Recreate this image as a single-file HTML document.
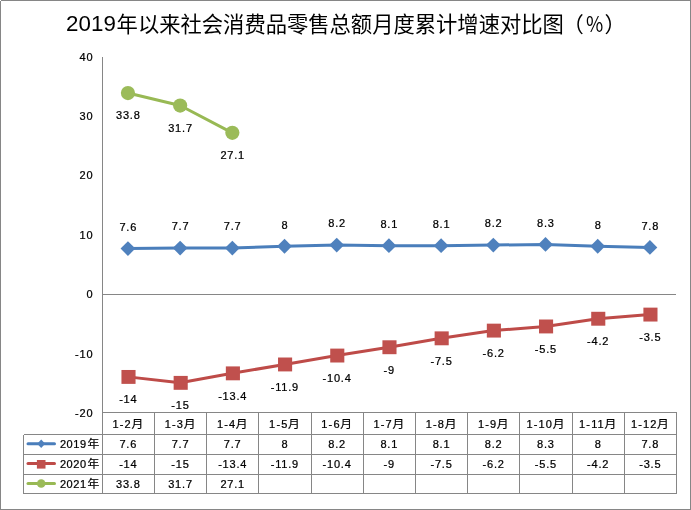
<!DOCTYPE html>
<html lang="zh-CN"><head><meta charset="utf-8"><title>2019年以来社会消费品零售总额月度累计增速对比图</title>
<style>html,body{margin:0;padding:0;background:#fff;}body{width:691px;height:510px;overflow:hidden;}svg{display:block;}text{font-family:"Liberation Sans","Noto Sans CJK SC",sans-serif;fill:#000;}.n{font-size:11px;letter-spacing:0.8px;stroke:#000;stroke-width:0.24px;}.c{font-family:"Noto Sans CJK SC","Liberation Sans",sans-serif;font-size:11.8px;stroke:#000;stroke-width:0.2px;}.t{font-size:21.3px;font-family:"Noto Sans CJK SC","Liberation Sans",sans-serif;}.td{font-size:22.3px;font-family:"Liberation Sans",sans-serif;letter-spacing:0.1px}</style></head><body>
<svg width="691" height="510" viewBox="0 0 691 510">
<rect x="0" y="0" width="691" height="510" fill="#fff"/>
<rect x="0.5" y="0.5" width="690" height="509" fill="none" stroke="#868686" stroke-width="1"/>
<rect x="0" y="0" width="1" height="1" fill="#fff"/>
<text class="td" x="66" y="30.6">2019</text>
<text class="t" x="116.6" y="31.5">年以来社会消费品零售总额月度累计增速对比图</text>
<text class="t" x="562.4" y="31.5">（</text>
<text class="t" transform="translate(585.9,31.5) scale(0.88,1)">%</text>
<text class="t" x="604.5" y="31.5">）</text>
<g stroke="#868686" stroke-width="1" fill="none" shape-rendering="crispEdges">
<line x1="102.5" y1="57" x2="102.5" y2="493.5"/>
<line x1="102.5" y1="294.5" x2="676" y2="294.5"/>
<line x1="102.5" y1="412.5" x2="676.5" y2="412.5"/>
<line x1="23.5" y1="434.5" x2="676.5" y2="434.5"/>
<line x1="23.5" y1="454.5" x2="676.5" y2="454.5"/>
<line x1="23.5" y1="474.5" x2="676.5" y2="474.5"/>
<line x1="23.5" y1="493.5" x2="676.5" y2="493.5"/>
<line x1="23.5" y1="434.5" x2="23.5" y2="493.5"/>
<line x1="154.5" y1="412.5" x2="154.5" y2="493.5"/>
<line x1="206.5" y1="412.5" x2="206.5" y2="493.5"/>
<line x1="258.5" y1="412.5" x2="258.5" y2="493.5"/>
<line x1="311.5" y1="412.5" x2="311.5" y2="493.5"/>
<line x1="363.5" y1="412.5" x2="363.5" y2="493.5"/>
<line x1="415.5" y1="412.5" x2="415.5" y2="493.5"/>
<line x1="467.5" y1="412.5" x2="467.5" y2="493.5"/>
<line x1="519.5" y1="412.5" x2="519.5" y2="493.5"/>
<line x1="572.5" y1="412.5" x2="572.5" y2="493.5"/>
<line x1="624.5" y1="412.5" x2="624.5" y2="493.5"/>
<line x1="676.5" y1="412.5" x2="676.5" y2="493.5"/>
</g>
<text class="n" x="93.4" y="60.6" text-anchor="end">40</text>
<text class="n" x="93.4" y="120.0" text-anchor="end">30</text>
<text class="n" x="93.4" y="179.4" text-anchor="end">20</text>
<text class="n" x="93.4" y="238.8" text-anchor="end">10</text>
<text class="n" x="93.4" y="298.1" text-anchor="end">0</text>
<text class="n" x="93.4" y="357.5" text-anchor="end">-10</text>
<text class="n" x="93.4" y="416.9" text-anchor="end">-20</text>
<polyline points="127.95,248.62 180.14,248.03 232.34,248.03 284.53,246.25 336.73,245.06 388.92,245.66 441.12,245.66 493.32,245.06 545.51,244.47 597.71,246.25 649.90,247.44" fill="none" stroke="#4a7ebb" stroke-width="3" stroke-linejoin="round" stroke-linecap="round"/>
<path d="M120.55 248.62L127.95 241.22L135.35 248.62L127.95 256.02Z" fill="#4f81bd"/>
<path d="M172.74 248.03L180.14 240.63L187.54 248.03L180.14 255.43Z" fill="#4f81bd"/>
<path d="M224.94 248.03L232.34 240.63L239.74 248.03L232.34 255.43Z" fill="#4f81bd"/>
<path d="M277.13 246.25L284.53 238.85L291.93 246.25L284.53 253.65Z" fill="#4f81bd"/>
<path d="M329.33 245.06L336.73 237.66L344.13 245.06L336.73 252.46Z" fill="#4f81bd"/>
<path d="M381.52 245.66L388.92 238.26L396.32 245.66L388.92 253.06Z" fill="#4f81bd"/>
<path d="M433.72 245.66L441.12 238.26L448.52 245.66L441.12 253.06Z" fill="#4f81bd"/>
<path d="M485.92 245.06L493.32 237.66L500.72 245.06L493.32 252.46Z" fill="#4f81bd"/>
<path d="M538.11 244.47L545.51 237.07L552.91 244.47L545.51 251.87Z" fill="#4f81bd"/>
<path d="M590.31 246.25L597.71 238.85L605.11 246.25L597.71 253.65Z" fill="#4f81bd"/>
<path d="M642.50 247.44L649.90 240.04L657.30 247.44L649.90 254.84Z" fill="#4f81bd"/>
<polyline points="127.95,376.88 180.14,382.81 232.34,373.31 284.53,364.41 336.73,355.50 388.92,347.19 441.12,338.28 493.32,330.56 545.51,326.41 597.71,318.69 649.90,314.53" fill="none" stroke="#be4b48" stroke-width="3" stroke-linejoin="round" stroke-linecap="round"/>
<rect x="121.45" y="369.98" width="14.1" height="13.9" fill="#c0504d"/>
<rect x="173.64" y="375.91" width="14.1" height="13.9" fill="#c0504d"/>
<rect x="225.84" y="366.41" width="14.1" height="13.9" fill="#c0504d"/>
<rect x="278.03" y="357.51" width="14.1" height="13.9" fill="#c0504d"/>
<rect x="330.23" y="348.60" width="14.1" height="13.9" fill="#c0504d"/>
<rect x="382.42" y="340.29" width="14.1" height="13.9" fill="#c0504d"/>
<rect x="434.62" y="331.38" width="14.1" height="13.9" fill="#c0504d"/>
<rect x="486.82" y="323.66" width="14.1" height="13.9" fill="#c0504d"/>
<rect x="539.01" y="319.51" width="14.1" height="13.9" fill="#c0504d"/>
<rect x="591.21" y="311.79" width="14.1" height="13.9" fill="#c0504d"/>
<rect x="643.40" y="307.63" width="14.1" height="13.9" fill="#c0504d"/>
<polyline points="127.95,93.06 180.14,105.53 232.34,132.84" fill="none" stroke="#98b954" stroke-width="3" stroke-linejoin="round" stroke-linecap="round"/>
<circle cx="127.95" cy="93.06" r="7.1" fill="#9bbb59"/>
<circle cx="180.14" cy="105.53" r="7.1" fill="#9bbb59"/>
<circle cx="232.34" cy="132.84" r="7.1" fill="#9bbb59"/>
<text class="n" x="128.3" y="230.9" text-anchor="middle">7.6</text>
<text class="n" x="180.5" y="230.3" text-anchor="middle">7.7</text>
<text class="n" x="232.7" y="230.3" text-anchor="middle">7.7</text>
<text class="n" x="284.9" y="228.6" text-anchor="middle">8</text>
<text class="n" x="337.1" y="227.4" text-anchor="middle">8.2</text>
<text class="n" x="389.3" y="228.0" text-anchor="middle">8.1</text>
<text class="n" x="441.5" y="228.0" text-anchor="middle">8.1</text>
<text class="n" x="493.7" y="227.4" text-anchor="middle">8.2</text>
<text class="n" x="545.9" y="226.8" text-anchor="middle">8.3</text>
<text class="n" x="598.1" y="228.6" text-anchor="middle">8</text>
<text class="n" x="650.3" y="229.7" text-anchor="middle">7.8</text>
<text class="n" x="128.3" y="403.2" text-anchor="middle">-14</text>
<text class="n" x="180.5" y="409.1" text-anchor="middle">-15</text>
<text class="n" x="232.7" y="399.6" text-anchor="middle">-13.4</text>
<text class="n" x="284.9" y="390.7" text-anchor="middle">-11.9</text>
<text class="n" x="337.1" y="381.8" text-anchor="middle">-10.4</text>
<text class="n" x="389.3" y="373.5" text-anchor="middle">-9</text>
<text class="n" x="441.5" y="364.6" text-anchor="middle">-7.5</text>
<text class="n" x="493.7" y="356.9" text-anchor="middle">-6.2</text>
<text class="n" x="545.9" y="352.7" text-anchor="middle">-5.5</text>
<text class="n" x="598.1" y="345.0" text-anchor="middle">-4.2</text>
<text class="n" x="650.3" y="340.8" text-anchor="middle">-3.5</text>
<text class="n" x="128.3" y="119.4" text-anchor="middle">33.8</text>
<text class="n" x="180.5" y="131.8" text-anchor="middle">31.7</text>
<text class="n" x="232.7" y="159.1" text-anchor="middle">27.1</text>
<text x="127.9" y="428.2" text-anchor="middle"><tspan class="n" style="letter-spacing:1.15px">1-2</tspan><tspan class="c" dx="-0.4">月</tspan></text>
<text x="180.1" y="428.2" text-anchor="middle"><tspan class="n" style="letter-spacing:1.15px">1-3</tspan><tspan class="c" dx="-0.4">月</tspan></text>
<text x="232.3" y="428.2" text-anchor="middle"><tspan class="n" style="letter-spacing:1.15px">1-4</tspan><tspan class="c" dx="-0.4">月</tspan></text>
<text x="284.5" y="428.2" text-anchor="middle"><tspan class="n" style="letter-spacing:1.15px">1-5</tspan><tspan class="c" dx="-0.4">月</tspan></text>
<text x="336.7" y="428.2" text-anchor="middle"><tspan class="n" style="letter-spacing:1.15px">1-6</tspan><tspan class="c" dx="-0.4">月</tspan></text>
<text x="388.9" y="428.2" text-anchor="middle"><tspan class="n" style="letter-spacing:1.15px">1-7</tspan><tspan class="c" dx="-0.4">月</tspan></text>
<text x="441.1" y="428.2" text-anchor="middle"><tspan class="n" style="letter-spacing:1.15px">1-8</tspan><tspan class="c" dx="-0.4">月</tspan></text>
<text x="493.3" y="428.2" text-anchor="middle"><tspan class="n" style="letter-spacing:1.15px">1-9</tspan><tspan class="c" dx="-0.4">月</tspan></text>
<text x="545.5" y="428.2" text-anchor="middle"><tspan class="n" style="letter-spacing:1.15px">1-10</tspan><tspan class="c" dx="-0.4">月</tspan></text>
<text x="597.7" y="428.2" text-anchor="middle"><tspan class="n" style="letter-spacing:1.15px">1-11</tspan><tspan class="c" dx="-0.4">月</tspan></text>
<text x="649.9" y="428.2" text-anchor="middle"><tspan class="n" style="letter-spacing:1.15px">1-12</tspan><tspan class="c" dx="-0.4">月</tspan></text>
<text class="n" x="128.3" y="448.3" text-anchor="middle">7.6</text>
<text class="n" x="180.5" y="448.3" text-anchor="middle">7.7</text>
<text class="n" x="232.7" y="448.3" text-anchor="middle">7.7</text>
<text class="n" x="284.9" y="448.3" text-anchor="middle">8</text>
<text class="n" x="337.1" y="448.3" text-anchor="middle">8.2</text>
<text class="n" x="389.3" y="448.3" text-anchor="middle">8.1</text>
<text class="n" x="441.5" y="448.3" text-anchor="middle">8.1</text>
<text class="n" x="493.7" y="448.3" text-anchor="middle">8.2</text>
<text class="n" x="545.9" y="448.3" text-anchor="middle">8.3</text>
<text class="n" x="598.1" y="448.3" text-anchor="middle">8</text>
<text class="n" x="650.3" y="448.3" text-anchor="middle">7.8</text>
<text class="n" x="128.3" y="468.3" text-anchor="middle">-14</text>
<text class="n" x="180.5" y="468.3" text-anchor="middle">-15</text>
<text class="n" x="232.7" y="468.3" text-anchor="middle">-13.4</text>
<text class="n" x="284.9" y="468.3" text-anchor="middle">-11.9</text>
<text class="n" x="337.1" y="468.3" text-anchor="middle">-10.4</text>
<text class="n" x="389.3" y="468.3" text-anchor="middle">-9</text>
<text class="n" x="441.5" y="468.3" text-anchor="middle">-7.5</text>
<text class="n" x="493.7" y="468.3" text-anchor="middle">-6.2</text>
<text class="n" x="545.9" y="468.3" text-anchor="middle">-5.5</text>
<text class="n" x="598.1" y="468.3" text-anchor="middle">-4.2</text>
<text class="n" x="650.3" y="468.3" text-anchor="middle">-3.5</text>
<text class="n" x="128.3" y="488.0" text-anchor="middle">33.8</text>
<text class="n" x="180.5" y="488.0" text-anchor="middle">31.7</text>
<text class="n" x="232.7" y="488.0" text-anchor="middle">27.1</text>
<line x1="28" y1="443.7" x2="54.5" y2="443.7" stroke="#4a7ebb" stroke-width="3" stroke-linecap="round"/>
<path d="M37.20 443.70L41.20 439.50L45.20 443.70L41.20 447.90Z" fill="#4f81bd"/>
<text x="59.9" y="448.3"><tspan class="n" style="letter-spacing:0.55px">2019</tspan><tspan class="c" dx="0.9" dy="-0.5">年</tspan></text>
<line x1="28" y1="463.6" x2="54.5" y2="463.6" stroke="#be4b48" stroke-width="3" stroke-linecap="round"/>
<rect x="36.90" y="460.00" width="8.6" height="8.6" fill="#c0504d"/>
<text x="59.9" y="468.3"><tspan class="n" style="letter-spacing:0.55px">2020</tspan><tspan class="c" dx="0.9" dy="-0.5">年</tspan></text>
<line x1="28" y1="483.5" x2="54.5" y2="483.5" stroke="#98b954" stroke-width="3" stroke-linecap="round"/>
<circle cx="41.20" cy="483.50" r="4.3" fill="#9bbb59"/>
<text x="59.9" y="488.0"><tspan class="n" style="letter-spacing:0.55px">2021</tspan><tspan class="c" dx="0.9" dy="-0.5">年</tspan></text>
</svg></body></html>
